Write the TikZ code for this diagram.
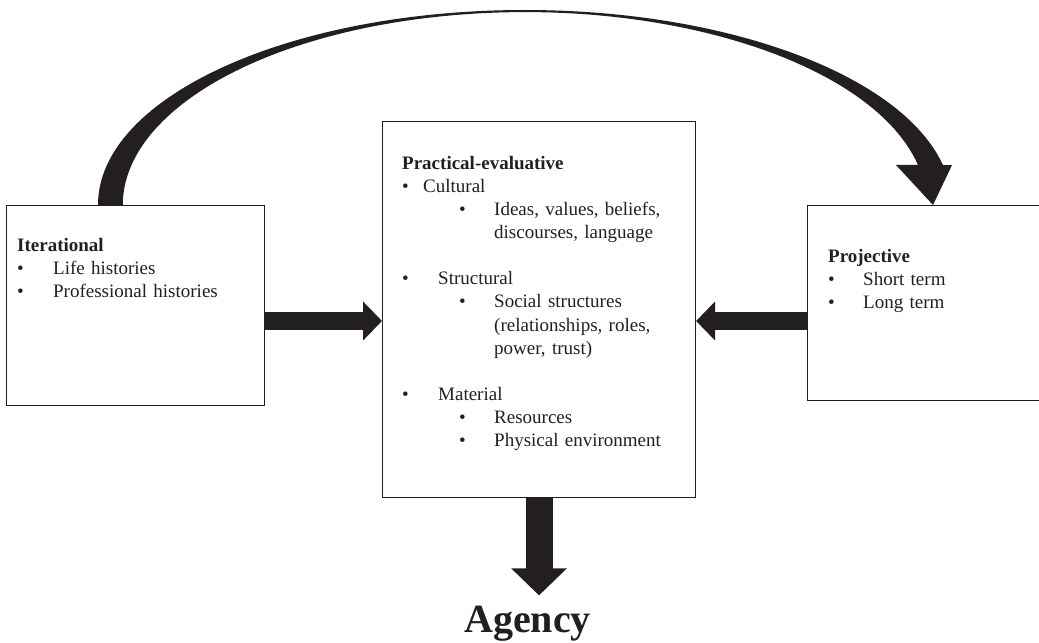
\documentclass[tikz,border=0pt]{standalone}
\usepackage{fontspec}
\setmainfont{Liberation Serif}
\usetikzlibrary{arrows.meta}
\definecolor{ink}{HTML}{231F20}
% bullet line: offset, gap to text, text
\newcommand\itm[3]{\hspace*{#1}\makebox[#2][l]{\textbullet}#3}

\begin{document}
\begin{tikzpicture}[x=1bp, y=-1bp,
    box/.style={draw=ink, line width=1.1bp, anchor=north west, inner sep=0},
    txt/.style={anchor=base west, inner sep=0, align=left, text width=#1,
      font=\fontsize{19bp}{23bp}\selectfont, text=ink},
    sidearrow/.style={ink, line width=18bp, -{Triangle[width=38bp, length=19bp]}},
    agencyarrow/.style={ink, line width=27bp, -{Triangle[width=54bp, length=27bp]}}]
  \useasboundingbox (0,0) rectangle (1039,643);
  % boxes
  \node[box, minimum width=258bp, minimum height=200bp] (iter) at (6,205) {};
  \node[box, minimum width=313bp, minimum height=376bp] (prac) at (382,121) {};
  \node[box, minimum width=240bp, minimum height=195bp] (proj) at (807,205) {};
  \coordinate (mid) at (0,321);
  % texts
  \node[txt=240bp] (itertext) at (17,252) {\textbf{Iterational}\\
    \itm{0pt}{36bp}{Life histories}\\
    \itm{0pt}{36bp}{Professional histories}};
  \node[txt=290bp] (practext) at (402,170) {\textbf{Practical-evaluative}\\
    \itm{0pt}{21bp}{Cultural}\\
    \itm{57bp}{35bp}{Ideas, values, beliefs,}\\
    \hspace*{92bp}discourses, language\\[23bp]
    \itm{0pt}{36bp}{Structural}\\
    \itm{57bp}{35bp}{Social structures}\\
    \hspace*{92bp}(relationships, roles,\\
    \hspace*{92bp}power, trust)\\[23bp]
    \itm{0pt}{36bp}{Material}\\
    \itm{57bp}{35bp}{Resources}\\
    \itm{57bp}{35bp}{Physical environment}};
  \node[txt=200bp] (projtext) at (828,263) {\textbf{Projective}\\
    \itm{0pt}{35bp}{Short term}\\
    \itm{0pt}{35bp}{Long term}};
  \node[font=\fontsize{40bp}{44bp}\selectfont\bfseries, text=ink, anchor=base,
    inner sep=10bp] (agency) at (527.5,632) {Agency};
  % arrows
  \fill[ink] ([xshift=92bp]iter.north west)
    arc[start angle=180, end angle=348.2, x radius=427, y radius=195]
    -- ++(9,0) -- ([xshift=126bp]proj.north west) -- ++(-37,-40) -- ++(22,0)
    arc[start angle=348, end angle=180, x radius=402, y radius=193] -- cycle;
  \draw[sidearrow] (iter.east |- mid) -- (prac.west |- mid);
  \draw[sidearrow] (proj.west |- mid) -- (prac.east |- mid);
  \draw[agencyarrow] (prac.south) -- (prac.south |- agency.north);
\end{tikzpicture}
\end{document}
